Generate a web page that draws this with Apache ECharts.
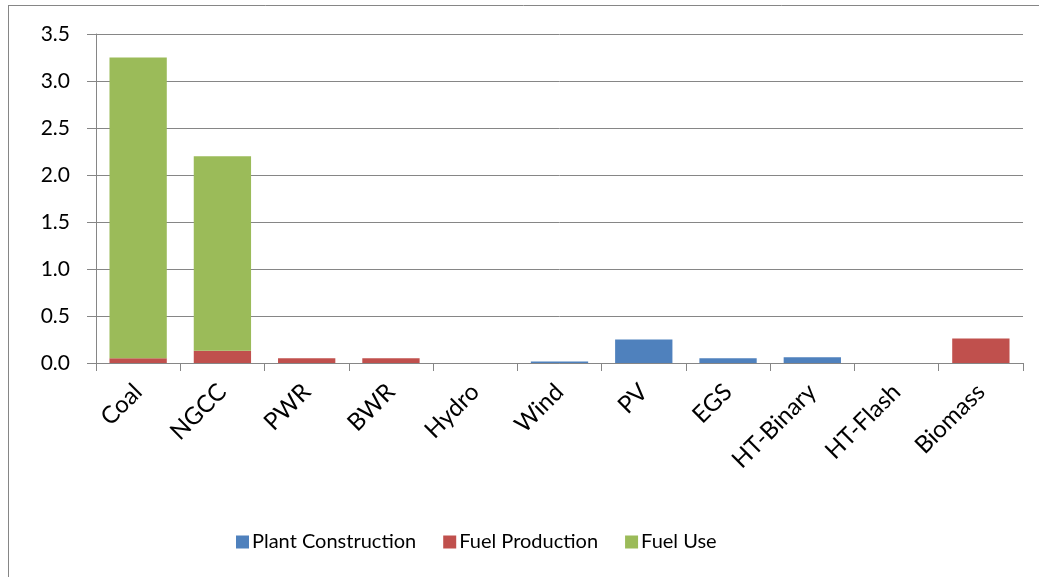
<!DOCTYPE html>
<html><head><meta charset="utf-8">
<script src="https://cdn.jsdelivr.net/npm/echarts@6/dist/echarts.min.js"></script>
<style>html,body{margin:0;padding:0;background:#fff}#c{width:1039px;height:577px}</style>
</head><body><div id="c"></div>
<script>
const categories = ['Coal','NGCC','PWR','BWR','Hydro','Wind','PV','EGS','HT-Binary','HT-Flash','Biomass'];
const plantConstruction = [0, 0, 0, 0, 0, 0.015, 0.25, 0.05, 0.06, 0, 0];
const fuelProduction = [0.05, 0.13, 0.05, 0.05, 0, 0, 0, 0, 0, 0, 0.26];
const fuelUse = [3.20, 2.07, 0, 0, 0, 0, 0, 0, 0, 0, 0];
const yTicks = ['0.0','0.5','1.0','1.5','2.0','2.5','3.0','3.5'];

const font = 'Lato, "Open Sans", sans-serif';
const chart = echarts.init(document.getElementById('c'));
const gray = '#868686';
function bar(name, data, color){
  return {name, type:'bar', stack:'t', data, barCategoryGap:'32%', itemStyle:{color}};
}
chart.setOption({
  animation:false,
  graphic:[
    {type:'line', shape:{x1:8.5,y1:5,x2:8.5,y2:577}, style:{stroke:gray,lineWidth:1}},
    {type:'line', shape:{x1:8,y1:5.5,x2:1039,y2:5.5}, style:{stroke:gray,lineWidth:1}}
  ],
  grid:{left:96, right:16, top:34, bottom:214, containLabel:false},
  legend:{
    left:231, top:527, itemWidth:13, itemHeight:13, itemGap:27,
    icon:'rect',
    textStyle:{fontFamily:font, fontSize:20, color:'#000', padding:[0,0,0,-2]},
    data:['Plant Construction','Fuel Production','Fuel Use']
  },
  xAxis:{
    type:'category', data:categories,
    axisLine:{lineStyle:{color:gray,width:1}},
    axisTick:{show:true, length:8, lineStyle:{color:gray}},
    axisLabel:{rotate:45, fontFamily:font, fontSize:24, color:'#000', margin:25, interval:0}
  },
  yAxis:{
    type:'value', min:0, max:3.5, interval:0.5,
    axisLine:{show:true, lineStyle:{color:gray,width:1}},
    axisTick:{show:true, length:9, lineStyle:{color:gray}},
    splitLine:{lineStyle:{color:gray,width:1}},
    axisLabel:{fontFamily:font, fontSize:21, color:'#000', margin:26,
      formatter:(v)=>yTicks[Math.round(v/0.5)]}
  },
  series:[
    bar('Plant Construction', plantConstruction, '#4F81BD'),
    bar('Fuel Production', fuelProduction, '#C0504D'),
    bar('Fuel Use', fuelUse, '#9BBB59')
  ]
});
</script></body></html>
